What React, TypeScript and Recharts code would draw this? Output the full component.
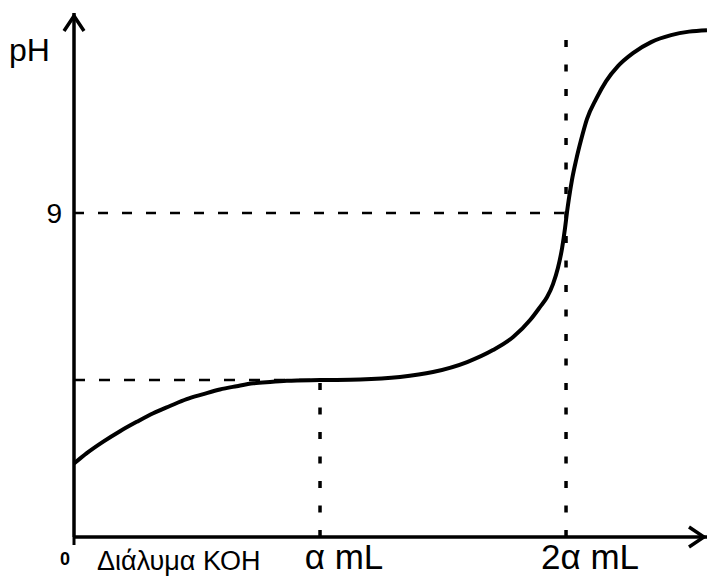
import React from "react";
import { LineChart, Line, XAxis, YAxis, ReferenceLine, Label } from "recharts";

// Titration curve (x in units of α mL, y in pH)
const volumes = [
  0, 0.052, 0.119, 0.187, 0.255, 0.322, 0.39, 0.458, 0.526, 0.593, 0.661,
  0.729, 0.797, 0.865, 1.0, 1.163, 1.325, 1.459, 1.598, 1.703, 1.785, 1.854,
  1.894, 1.923, 1.947, 1.967, 1.984, 1.996, 2.004, 2.012, 2.024, 2.041, 2.061,
  2.085, 2.122, 2.163, 2.211, 2.272, 2.346, 2.427, 2.5, 2.573,
];
const phValues = [
  2.04, 2.33, 2.65, 2.94, 3.2, 3.44, 3.64, 3.83, 3.97, 4.1, 4.19, 4.27, 4.31,
  4.34, 4.36, 4.375, 4.444, 4.583, 4.861, 5.194, 5.556, 6.028, 6.389, 6.667,
  7.028, 7.472, 8.028, 8.583, 9.028, 9.417, 9.917, 10.472, 11.028, 11.611,
  12.167, 12.667, 13.083, 13.444, 13.75, 13.944, 14.042, 14.083,
];

const xTicks = [0, 1, 2];
const xTickLabels = ["0", "α mL", "2α mL"];
const yTicks = [9];
const yTickLabels = ["9"];
const xAxisTitle = "Διάλυμα ΚΟΗ";
const yAxisTitle = "pH";

const halfEqVolume = 1;
const eqVolume = 2;
const halfEqPH = 4.36;
const eqPH = 9;
const topPH = 14.08;
const xMax = 2.573;
const yMax = 14.56;

const rows = volumes.map((v, i) => ({ v, ph: phValues[i] }));

const FONT = "'Liberation Sans', Arial, sans-serif";

const XTick = (props: any) => {
  const { x, y, payload } = props;
  const i = xTicks.indexOf(payload.value);
  const label = i >= 0 ? xTickLabels[i] : "";
  if (payload.value === 0) {
    return (
      <g>
        <line x1={x} y1={y} x2={x} y2={y + 8} stroke="#000" strokeWidth={3} />
        <text x={x - 9} y={y + 28} textAnchor="middle" fontSize={18} fontWeight="bold" fontFamily={FONT} fill="#000">
          {label}
        </text>
      </g>
    );
  }
  return (
    <text x={x + 24} y={y + 32} textAnchor="middle" fontSize={35} fontFamily={FONT} fill="#000">
      {label}
    </text>
  );
};

const YTick = (props: any) => {
  const { x, y, payload } = props;
  const i = yTicks.indexOf(payload.value);
  const label = i >= 0 ? yTickLabels[i] : "";
  return (
    <text x={x} y={y + 10} textAnchor="end" fontSize={28} fontFamily={FONT} fill="#000">
      {label}
    </text>
  );
};

const renderXTitle = (props: any) => {
  const vb = props.viewBox || { x: 74, y: 537 };
  return (
    <text x={vb.x + 23} y={vb.y + 33} fontSize={27} fontFamily={FONT} fill="#000">
      {xAxisTitle}
    </text>
  );
};

const renderYTitle = (props: any) => {
  const vb = props.viewBox || { x: 0, y: 13 };
  return (
    <text x={vb.x + 9} y={vb.y + 48} fontSize={32} fontFamily={FONT} fill="#000">
      {yAxisTitle}
    </text>
  );
};

export default function App() {
  return (
    <div style={{ position: "absolute", left: 0, top: 0, width: 707, height: 576, background: "#fff" }}>
      <svg width={0} height={0} style={{ position: "absolute" }}>
        <defs>
          <marker
            id="arrowHead"
            viewBox="-20 -14 24 28"
            markerWidth={24}
            markerHeight={28}
            refX={3}
            refY={0}
            orient="auto-start-reverse"
            markerUnits="userSpaceOnUse"
          >
            <path d="M -15 -10 L 0 0 L -15 10" fill="none" stroke="#000" strokeWidth={3.5} />
          </marker>
        </defs>
      </svg>
      <LineChart width={707} height={576} data={rows} margin={{ top: 13, right: 0, bottom: 0, left: 0 }}>
        <XAxis
          dataKey="v"
          type="number"
          domain={[0, xMax]}
          ticks={xTicks}
          height={39}
          tickSize={0}
          tickMargin={0}
          tickLine={false}
          axisLine={{ stroke: "#000", strokeWidth: 3.5, markerEnd: "url(#arrowHead)" } as any}
          tick={XTick}
          interval={0}
        >
          <Label content={renderXTitle} />
        </XAxis>
        <YAxis
          type="number"
          domain={[0, yMax]}
          ticks={yTicks}
          width={74}
          tickSize={0}
          tickMargin={12}
          tickLine={false}
          axisLine={{ stroke: "#000", strokeWidth: 3.5, markerStart: "url(#arrowHead)" } as any}
          tick={YTick}
          interval={0}
        >
          <Label content={renderYTitle} />
        </YAxis>
        <ReferenceLine
          segment={[{ x: 0, y: eqPH }, { x: eqVolume, y: eqPH }]}
          stroke="#000"
          strokeWidth={2.5}
          strokeDasharray="10 14"
        />
        <ReferenceLine
          segment={[{ x: 0, y: halfEqPH }, { x: halfEqVolume, y: halfEqPH }]}
          stroke="#000"
          strokeWidth={2.5}
          strokeDasharray="11 14"
        />
        <ReferenceLine
          segment={[{ x: halfEqVolume, y: 0 }, { x: halfEqVolume, y: halfEqPH }]}
          stroke="#000"
          strokeWidth={3.5}
          strokeDasharray="7 17.5"
        />
        <ReferenceLine
          segment={[{ x: eqVolume, y: 0 }, { x: eqVolume, y: topPH }]}
          stroke="#000"
          strokeWidth={3.5}
          strokeDasharray="7 17.5"
        />
        <Line
          dataKey="ph"
          type="monotone"
          stroke="#000"
          strokeWidth={4}
          dot={false}
          activeDot={false}
          isAnimationActive={false}
        />
      </LineChart>
    </div>
  );
}
